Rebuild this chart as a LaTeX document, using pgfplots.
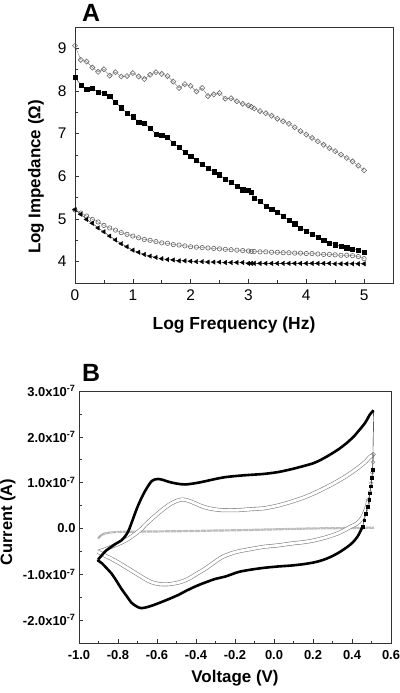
\documentclass[border=0pt]{standalone}
\usepackage{fontspec}
\setmainfont{Liberation Sans}
\usepackage{pgfplots}
\pgfplotsset{compat=1.18}
\usepackage{pgfplotstable}

\pgfplotstableread{
x y
0 9.06
0.1 8.73
0.2 8.69
0.3 8.55
0.4 8.45
0.5 8.51
0.6 8.36
0.7 8.44
0.8 8.34
0.9 8.35
1.0 8.42
1.1 8.34
1.2 8.28
1.3 8.38
1.4 8.44
1.5 8.40
1.6 8.35
1.7 8.22
1.8 8.07
1.9 8.16
2.0 8.12
2.1 7.99
2.2 8.07
2.3 7.88
2.4 7.92
2.5 7.95
2.6 7.82
2.7 7.83
2.8 7.76
2.9 7.70
3.0 7.66
3.05 7.63
3.1 7.59
3.2 7.53
3.3 7.48
3.4 7.42
3.5 7.35
3.6 7.29
3.7 7.23
3.8 7.15
3.9 7.06
4.0 6.98
4.1 6.90
4.2 6.82
4.3 6.74
4.4 6.66
4.5 6.59
4.6 6.51
4.7 6.43
4.8 6.35
4.9 6.25
5.0 6.14
}\diam

\pgfplotstableread{
x y
0 8.33
0.1 8.14
0.2 8.04
0.3 8.07
0.4 7.97
0.5 7.95
0.6 7.87
0.7 7.73
0.8 7.61
0.9 7.48
1.0 7.40
1.1 7.27
1.2 7.24
1.3 7.13
1.4 6.99
1.5 6.97
1.6 6.91
1.7 6.78
1.8 6.68
1.9 6.56
2.0 6.48
2.1 6.37
2.2 6.29
2.3 6.19
2.4 6.11
2.5 6.04
2.6 5.93
2.7 5.86
2.8 5.77
2.9 5.69
3.0 5.67
3.05 5.63
3.1 5.49
3.2 5.41
3.3 5.31
3.4 5.24
3.5 5.16
3.6 5.07
3.7 4.97
3.8 4.89
3.9 4.79
4.0 4.72
4.1 4.64
4.2 4.58
4.3 4.51
4.4 4.44
4.5 4.40
4.6 4.36
4.7 4.33
4.8 4.30
4.9 4.27
5.0 4.23
}\squares

\pgfplotstableread{
x y
0 5.21
0.1 5.14
0.2 5.07
0.3 4.99
0.4 4.93
0.5 4.85
0.6 4.79
0.7 4.74
0.8 4.68
0.9 4.64
1.0 4.60
1.1 4.56
1.2 4.52
1.3 4.50
1.4 4.47
1.5 4.44
1.6 4.43
1.7 4.40
1.8 4.39
1.9 4.37
2.0 4.35
2.1 4.34
2.2 4.33
2.3 4.32
2.4 4.31
2.5 4.30
2.6 4.29
2.7 4.28
2.8 4.27
2.9 4.26
3.0 4.25
3.05 4.24
3.1 4.24
3.2 4.23
3.3 4.23
3.4 4.22
3.5 4.22
3.6 4.21
3.7 4.21
3.8 4.20
3.9 4.20
4.0 4.19
4.1 4.19
4.2 4.18
4.3 4.17
4.4 4.17
4.5 4.16
4.6 4.15
4.7 4.15
4.8 4.14
4.9 4.12
5.0 4.07
}\circs

\pgfplotstableread{
x y
0 5.22
0.1 5.11
0.2 4.99
0.3 4.90
0.4 4.79
0.5 4.70
0.6 4.60
0.7 4.51
0.8 4.42
0.9 4.35
1.0 4.27
1.1 4.22
1.2 4.17
1.3 4.13
1.4 4.10
1.5 4.07
1.6 4.05
1.7 4.04
1.8 4.02
1.9 4.02
2.0 4.01
2.1 4.00
2.2 4.00
2.3 3.99
2.4 3.99
2.5 3.99
2.6 3.98
2.7 3.98
2.8 3.98
2.9 3.98
3.0 3.96
3.05 3.96
3.1 3.96
3.2 3.96
3.3 3.96
3.4 3.96
3.5 3.96
3.6 3.96
3.7 3.96
3.8 3.96
3.9 3.96
4.0 3.96
4.1 3.96
4.2 3.96
4.3 3.96
4.4 3.96
4.5 3.95
4.6 3.95
4.7 3.95
4.8 3.95
4.9 3.95
5.0 3.95
}\tris

\begin{document}
\begin{tikzpicture}
\pgfplotsset{
  common/.style={
    scale only axis,
    axis line style={black!80, line width=0.8bp},
    tick align=inside,
    xtick pos=left, ytick pos=left,
    major tick length=4bp, minor tick length=2.5bp,
    every tick/.style={black!80, line width=0.6bp},
    /pgf/number format/assume math mode=true,
    clip=false,
  }
}
% ---------------- Panel A ----------------
\begin{axis}[common,
  at={(75bp,410bp)}, anchor=south west,
  width=318bp, height=256bp,
  xmin=0, xmax=5.5, ymin=3.5, ymax=9.5,
  xtick={0,1,2,3,4,5}, ytick={4,5,6,7,8,9},
  minor xtick={0.5,1.5,2.5,3.5,4.5},
  minor ytick={4.5,5.5,6.5,7.5,8.5},
  ticklabel style={font=\fontsize{15.5}{18}\selectfont},
  xticklabel style={yshift=-3.5bp},
  yticklabel style={xshift=-5bp},
  xlabel={Log Frequency (Hz)},
  ylabel={Log Impedance (Ω)},
  xlabel style={font=\bfseries\fontsize{17.5}{20}\selectfont, at={(axis description cs:0.5,-0.164)}, anchor=center},
  ylabel style={font=\bfseries\fontsize{17}{20}\selectfont, at={(axis description cs:-0.1226,0.414)}, anchor=center},
]
\addplot[black!60, line width=0.3bp, mark=square, mark size=1.8bp, mark options={solid, rotate=45, line width=0.6bp}] table {\diam};
\addplot[black, line width=0.3bp, mark=square*, mark size=2.1bp] table {\squares};
\addplot[black!60, line width=0.3bp, mark=o, mark size=2.2bp, mark options={line width=0.6bp}] table {\circs};
\addplot[black, line width=0.3bp, mark=triangle*, mark size=2.6bp, mark options={rotate=90}] table {\tris};
\end{axis}

% ---------------- Panel B ----------------
\begin{axis}[common,
  at={(79bp,50bp)}, anchor=south west,
  width=312bp, height=252bp,
  xmin=-1, xmax=0.6, ymin=-2.5e-7, ymax=3e-7,
  scaled y ticks=false, scaled x ticks=false,
  xtick={-1,-0.8,-0.6,-0.4,-0.2,0,0.2,0.4,0.6},
  xticklabels={-1.0,-0.8,-0.6,-0.4,-0.2,0.0,0.2,0.4,0.6},
  minor xtick={-0.9,-0.7,-0.5,-0.3,-0.1,0.1,0.3,0.5},
  ytick={-2e-7,-1e-7,0,1e-7,2e-7,3e-7},
  yticklabels={-2.0x10\textsuperscript{-7},-1.0x10\textsuperscript{-7},0.0,1.0x10\textsuperscript{-7},2.0x10\textsuperscript{-7},3.0x10\textsuperscript{-7}},
  minor ytick={-1.5e-7,-0.5e-7,0.5e-7,1.5e-7,2.5e-7},
  ticklabel style={font=\bfseries\fontsize{13}{15}\selectfont},
  xticklabel style={yshift=-4bp},
  xlabel={Voltage (V)},
  ylabel={Current (A)},
  xlabel style={font=\bfseries\fontsize{17}{20}\selectfont, at={(axis description cs:0.5,-0.139)}, anchor=center},
  ylabel style={font=\bfseries\fontsize{16.5}{20}\selectfont, at={(axis description cs:-0.2276,0.48)}, anchor=center},
]
% flat gray (blank) curve
\addplot[black!40, line width=2.2bp, dash pattern=on 0.6bp off 0.6bp, smooth] coordinates {
(-0.902,-0.22e-7) (-0.89,-0.16e-7) (-0.868,-0.11e-7) (-0.84,-0.09e-7) (-0.80,-0.075e-7)
(-0.7,-0.07e-7) (-0.6,-0.065e-7) (-0.5,-0.06e-7) (-0.4,-0.055e-7) (-0.3,-0.045e-7)
(-0.2,-0.04e-7) (-0.1,-0.03e-7) (0.0,-0.02e-7) (0.1,-0.01e-7) (0.2,0.0) (0.3,0.005e-7)
(0.4,0.01e-7) (0.515,0.015e-7)};
% open-circle curve
\addplot[black!50, line width=0.6bp, double=white, double distance=2.8bp, smooth] coordinates {
(-0.902,-0.51e-7) (-0.868,-0.46e-7) (-0.834,-0.40e-7) (-0.80,-0.34e-7) (-0.765,-0.27e-7)
(-0.735,-0.19e-7) (-0.705,-0.10e-7) (-0.68,-0.01e-7) (-0.662,0.07e-7) (-0.63,0.20e-7)
(-0.594,0.33e-7) (-0.56,0.45e-7) (-0.525,0.55e-7) (-0.50,0.60e-7) (-0.474,0.63e-7)
(-0.45,0.62e-7) (-0.422,0.58e-7) (-0.39,0.52e-7) (-0.353,0.46e-7) (-0.31,0.42e-7)
(-0.268,0.40e-7) (-0.223,0.40e-7) (-0.182,0.40e-7) (-0.12,0.42e-7) (-0.052,0.44e-7)
(0.02,0.50e-7) (0.086,0.58e-7) (0.15,0.67e-7) (0.206,0.77e-7) (0.26,0.88e-7)
(0.309,0.99e-7) (0.35,1.09e-7) (0.394,1.21e-7) (0.43,1.32e-7) (0.454,1.40e-7)
(0.475,1.48e-7) (0.489,1.55e-7) (0.511,1.62e-7)};
\addplot[black!50, line width=0.4bp, mark=o, mark size=1.9bp] coordinates {
(0.511,1.62e-7) (0.508,1.45e-7) (0.504,1.22e-7) (0.499,0.99e-7) (0.492,0.80e-7) (0.485,0.63e-7)};
\addplot[black!50, line width=0.6bp, double=white, double distance=2.8bp, smooth] coordinates {
(0.485,0.63e-7) (0.475,0.46e-7) (0.463,0.33e-7) (0.45,0.22e-7) (0.437,0.15e-7)
(0.415,0.08e-7) (0.394,0.04e-7) (0.36,-0.04e-7) (0.326,-0.11e-7) (0.27,-0.19e-7)
(0.206,-0.26e-7) (0.15,-0.30e-7) (0.086,-0.33e-7) (0.02,-0.37e-7) (-0.052,-0.40e-7)
(-0.12,-0.45e-7) (-0.182,-0.50e-7) (-0.223,-0.55e-7) (-0.268,-0.63e-7) (-0.31,-0.75e-7)
(-0.353,-0.88e-7) (-0.40,-1.00e-7) (-0.439,-1.10e-7) (-0.48,-1.17e-7) (-0.525,-1.21e-7)
(-0.56,-1.22e-7) (-0.594,-1.21e-7) (-0.63,-1.17e-7) (-0.662,-1.10e-7) (-0.70,-1.00e-7)
(-0.731,-0.92e-7) (-0.765,-0.83e-7) (-0.80,-0.74e-7) (-0.834,-0.66e-7) (-0.868,-0.59e-7)
(-0.902,-0.51e-7)};
% filled-square curve
\addplot[black, line width=2.6bp, smooth] coordinates {
(-0.902,-0.68e-7) (-0.88,-0.57e-7) (-0.86,-0.48e-7) (-0.834,-0.40e-7) (-0.81,-0.33e-7)
(-0.782,-0.26e-7) (-0.765,-0.18e-7) (-0.748,-0.07e-7) (-0.735,0.07e-7) (-0.722,0.22e-7)
(-0.71,0.36e-7) (-0.696,0.51e-7) (-0.68,0.66e-7) (-0.662,0.81e-7) (-0.645,0.93e-7)
(-0.628,1.03e-7) (-0.61,1.07e-7) (-0.594,1.08e-7) (-0.57,1.06e-7) (-0.542,1.02e-7)
(-0.50,0.98e-7) (-0.456,0.96e-7) (-0.40,0.99e-7) (-0.353,1.03e-7) (-0.30,1.08e-7)
(-0.25,1.12e-7) (-0.182,1.15e-7) (-0.12,1.17e-7) (-0.052,1.19e-7) (0.02,1.23e-7)
(0.086,1.29e-7) (0.15,1.36e-7) (0.206,1.43e-7) (0.25,1.52e-7) (0.291,1.62e-7)
(0.335,1.74e-7) (0.377,1.88e-7) (0.41,2.01e-7) (0.428,2.10e-7) (0.448,2.20e-7)
(0.463,2.28e-7) (0.478,2.38e-7) (0.489,2.47e-7) (0.50,2.53e-7) (0.511,2.58e-7)};
\addplot[black, line width=0.4bp] coordinates {(0.511,2.58e-7) (0.506,1.29e-7)};
\addplot[black, line width=0.4bp, mark=square*, mark size=1.4bp] coordinates {
(0.506,1.29e-7) (0.502,1.10e-7) (0.497,0.92e-7) (0.492,0.77e-7) (0.488,0.63e-7)
(0.48,0.48e-7) (0.471,0.33e-7) (0.463,0.18e-7) (0.454,0.04e-7)};
\addplot[black, line width=2.6bp, smooth] coordinates {
(0.454,0.04e-7) (0.442,-0.07e-7) (0.428,-0.18e-7) (0.405,-0.30e-7) (0.377,-0.40e-7)
(0.335,-0.52e-7) (0.291,-0.62e-7) (0.25,-0.69e-7) (0.206,-0.74e-7) (0.15,-0.78e-7)
(0.086,-0.81e-7) (0.02,-0.83e-7) (-0.052,-0.86e-7) (-0.12,-0.90e-7) (-0.182,-0.95e-7)
(-0.25,-1.05e-7) (-0.30,-1.10e-7) (-0.353,-1.18e-7) (-0.40,-1.26e-7) (-0.45,-1.36e-7)
(-0.49,-1.45e-7) (-0.55,-1.56e-7) (-0.61,-1.66e-7) (-0.645,-1.71e-7) (-0.68,-1.74e-7)
(-0.705,-1.70e-7) (-0.731,-1.62e-7) (-0.755,-1.48e-7) (-0.782,-1.32e-7) (-0.81,-1.13e-7)
(-0.834,-0.98e-7) (-0.86,-0.86e-7) (-0.88,-0.77e-7) (-0.902,-0.70e-7) (-0.902,-0.68e-7)};
\end{axis}

\node[font=\bfseries\fontsize{25}{30}\selectfont] at (91bp,680bp) {A};
\node[font=\bfseries\fontsize{25}{30}\selectfont] at (91bp,320bp) {B};

\pgfresetboundingbox
\path[use as bounding box] (0,0) rectangle (400bp,693bp);
\end{tikzpicture}
\end{document}
